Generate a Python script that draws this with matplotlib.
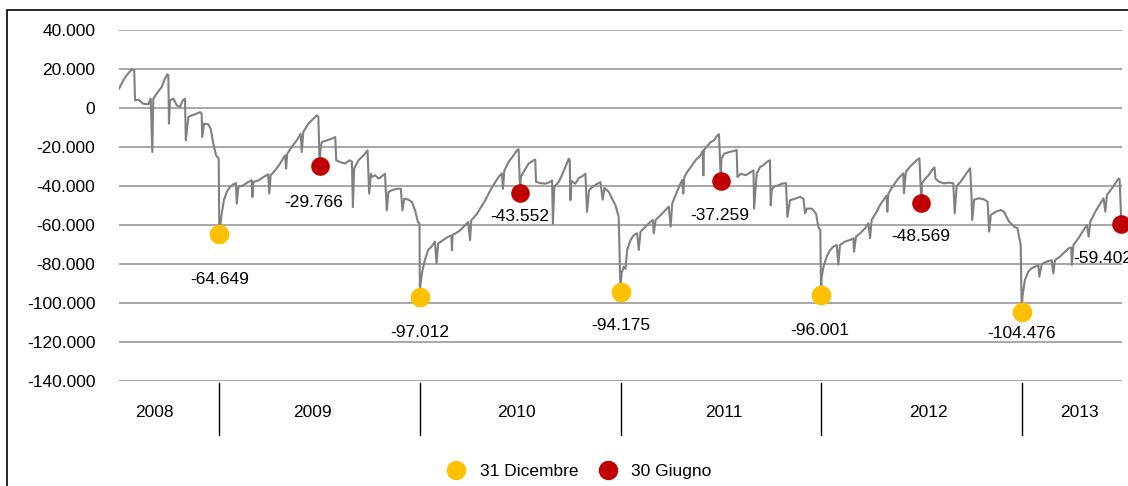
import matplotlib
matplotlib.use("Agg")
import matplotlib.pyplot as plt
import matplotlib.transforms as mtransforms
from matplotlib.lines import Line2D
from matplotlib.patches import Rectangle

plt.rcParams['font.family'] = ['Liberation Sans', 'DejaVu Sans']

# ---------------------- Data ----------------------
# daily series (time in fractional years, values in thousands)
t = [
    # 2008 H2
    2008.500, 2008.522, 2008.538, 2008.563, 2008.576, 2008.580, 2008.596, 2008.621, 2008.646, 2008.658,
    2008.666, 2008.671, 2008.688, 2008.713, 2008.729, 2008.741, 2008.746, 2008.749, 2008.754, 2008.771,
    2008.788, 2008.804, 2008.818, 2008.829, 2008.833, 2008.846, 2008.862, 2008.887, 2008.904, 2008.912,
    2008.915, 2008.924, 2008.945, 2008.957, 2008.970, 2008.984, 2008.997, 2009.000,
    # 2009 H1
    2009.012, 2009.023, 2009.037, 2009.053, 2009.070, 2009.083, 2009.087, 2009.095, 2009.120, 2009.145,
    2009.162, 2009.165, 2009.170, 2009.195, 2009.220, 2009.244, 2009.249, 2009.256, 2009.278, 2009.303,
    2009.328, 2009.333, 2009.339, 2009.361, 2009.386, 2009.406, 2009.411, 2009.419, 2009.444, 2009.469,
    2009.486, 2009.494, 2009.500,
    # 2009 H2
    2009.505, 2009.512, 2009.536, 2009.561, 2009.578, 2009.583, 2009.602, 2009.627, 2009.649, 2009.661,
    2009.666, 2009.672, 2009.694, 2009.711, 2009.727, 2009.739, 2009.747, 2009.756, 2009.760, 2009.776,
    2009.794, 2009.811, 2009.826, 2009.835, 2009.843, 2009.860, 2009.885, 2009.905, 2009.913, 2009.922,
    2009.943, 2009.960, 2009.976, 2009.990, 2009.998, 2010.000,
    # 2010 H1
    2010.003, 2010.013, 2010.025, 2010.041, 2010.058, 2010.075, 2010.083, 2010.091, 2010.116, 2010.141,
    2010.157, 2010.160, 2010.163, 2010.176, 2010.201, 2010.225, 2010.241, 2010.250, 2010.256, 2010.285,
    2010.310, 2010.326, 2010.351, 2010.371, 2010.392, 2010.409, 2010.414, 2010.421, 2010.442, 2010.467,
    2010.484, 2010.492, 2010.500,
    # 2010 H2
    2010.503, 2010.517, 2010.542, 2010.567, 2010.575, 2010.579, 2010.600, 2010.625, 2010.650, 2010.659,
    2010.663, 2010.670, 2010.692, 2010.708, 2010.725, 2010.742, 2010.747, 2010.750, 2010.755, 2010.775,
    2010.792, 2010.817, 2010.825, 2010.833, 2010.843, 2010.860, 2010.885, 2010.900, 2010.911, 2010.920,
    2010.942, 2010.958, 2010.975, 2010.991, 2011.000,
    # 2011 H1
    2011.005, 2011.016, 2011.025, 2011.033, 2011.050, 2011.067, 2011.083, 2011.091, 2011.100, 2011.125,
    2011.150, 2011.161, 2011.166, 2011.175, 2011.200, 2011.225, 2011.241, 2011.250, 2011.258, 2011.275,
    2011.292, 2011.308, 2011.313, 2011.318, 2011.333, 2011.358, 2011.375, 2011.400, 2011.410, 2011.413,
    2011.416, 2011.425, 2011.450, 2011.466, 2011.483, 2011.491, 2011.500,
    # 2011 H2
    2011.503, 2011.517, 2011.542, 2011.567, 2011.579, 2011.583, 2011.600, 2011.625, 2011.650, 2011.663,
    2011.666, 2011.679, 2011.696, 2011.712, 2011.729, 2011.745, 2011.749, 2011.754, 2011.762, 2011.787,
    2011.804, 2011.825, 2011.832, 2011.845, 2011.870, 2011.895, 2011.912, 2011.920, 2011.929, 2011.954,
    2011.975, 2011.986, 2011.996, 2012.000,
    # 2012 H1
    2012.003, 2012.012, 2012.028, 2012.045, 2012.061, 2012.078, 2012.086, 2012.094, 2012.119, 2012.144,
    2012.161, 2012.164, 2012.174, 2012.194, 2012.219, 2012.236, 2012.244, 2012.252, 2012.277, 2012.294,
    2012.311, 2012.327, 2012.330, 2012.335, 2012.352, 2012.368, 2012.385, 2012.410, 2012.413, 2012.423,
    2012.443, 2012.460, 2012.477, 2012.490, 2012.500,
    # 2012 H2
    2012.503, 2012.520, 2012.537, 2012.553, 2012.565, 2012.570, 2012.587, 2012.612, 2012.637, 2012.659,
    2012.666, 2012.676, 2012.696, 2012.713, 2012.730, 2012.743, 2012.750, 2012.753, 2012.763, 2012.788,
    2012.809, 2012.830, 2012.838, 2012.846, 2012.871, 2012.896, 2012.912, 2012.937, 2012.962, 2012.979,
    2012.987, 2012.995, 2013.000,
    # 2013 H1
    2013.004, 2013.016, 2013.033, 2013.049, 2013.066, 2013.083, 2013.088, 2013.100, 2013.124, 2013.149,
    2013.158, 2013.166, 2013.191, 2013.216, 2013.233, 2013.247, 2013.250, 2013.258, 2013.283, 2013.308,
    2013.325, 2013.334, 2013.342, 2013.367, 2013.392, 2013.408, 2013.417, 2013.425, 2013.450, 2013.467,
    2013.483, 2013.488, 2013.497,
]

v = [
    # 2008 H2
    9.9, 14.2, 16.8, 19.7, 19.3, 3.9, 4.3, 2.2, 1.9, 4.8,
    -22.6, 4.8, 7.4, 10.8, 15.0, 17.3, 16.8, -8.0, 3.9, 4.8,
    1.4, 0.5, 3.9, 4.8, -16.6, -4.6, -3.8, -2.9, -2.1, -2.9,
    -14.9, -8.0, -8.4, -10.6, -18.3, -24.3, -26.0, -64.649,
    # 2009 H1
    -54.2, -47.3, -43.1, -40.5, -39.1, -38.5, -49.0, -40.5, -39.6, -37.9,
    -37.1, -45.6, -37.9, -37.1, -35.4, -34.0, -43.9, -34.5, -32.0, -28.5,
    -24.3, -31.1, -23.4, -20.0, -16.6, -13.2, -22.6, -12.3, -8.0, -5.5,
    -3.8, -4.6, -29.766,
    # 2009 H2
    -20.0, -17.4, -16.6, -15.7, -14.9, -26.8, -27.7, -28.5, -26.8, -27.5,
    -50.8, -31.1, -26.8, -25.1, -23.4, -21.7, -43.9, -33.7, -35.4, -34.5,
    -36.2, -35.0, -33.7, -52.5, -43.1, -42.2, -41.4, -41.4, -52.5, -46.5,
    -47.0, -48.2, -52.5, -58.4, -59.3, -97.012,
    # 2010 H1
    -89.9, -83.1, -77.9, -72.8, -71.1, -68.5, -79.6, -69.5, -67.7, -66.0,
    -65.5, -72.9, -65.0, -64.4, -62.7, -60.2, -58.4, -67.8, -57.6, -54.2,
    -49.9, -47.3, -42.2, -38.8, -35.4, -33.5, -41.4, -32.0, -27.7, -24.3,
    -21.7, -21.2, -43.552,
    # 2010 H2
    -35.4, -32.8, -28.5, -26.8, -26.5, -37.9, -38.5, -38.8, -37.9, -37.1,
    -59.3, -40.5, -37.9, -34.5, -30.2, -26.0, -26.8, -47.3, -37.5, -38.8,
    -36.0, -34.5, -33.7, -53.3, -42.2, -40.5, -38.8, -38.0, -47.0, -41.0,
    -43.1, -46.5, -49.9, -55.9, -94.175,
    # 2011 H1
    -84.8, -81.4, -82.5, -72.8, -67.7, -65.1, -64.3, -72.8, -63.4, -60.8,
    -58.3, -57.5, -64.3, -57.4, -54.9, -52.3, -50.6, -60.8, -48.9, -44.6,
    -40.3, -36.9, -43.9, -35.5, -32.7, -29.2, -26.7, -24.1, -22.0, -34.5,
    -21.5, -20.5, -17.4, -16.6, -14.0, -13.5, -37.259,
    # 2011 H2
    -26.0, -23.4, -22.6, -22.0, -21.5, -35.4, -33.7, -34.5, -32.8, -32.0,
    -51.6, -33.7, -30.2, -29.4, -27.7, -26.8, -49.9, -42.2, -40.5, -39.6,
    -38.8, -38.5, -55.9, -47.3, -46.5, -45.6, -46.5, -54.0, -51.6, -51.6,
    -54.2, -61.0, -62.7, -96.001,
    # 2012 H1
    -86.5, -81.4, -76.2, -72.8, -71.1, -70.3, -80.3, -70.3, -68.5, -67.7,
    -66.8, -73.7, -66.0, -64.3, -61.7, -59.1, -66.8, -57.4, -53.2, -49.7,
    -47.2, -45.0, -53.2, -44.0, -41.0, -38.6, -36.1, -33.5, -43.8, -32.7,
    -30.1, -28.4, -26.7, -25.8, -48.569,
    # 2012 H2
    -38.6, -36.1, -34.4, -31.8, -30.4, -36.1, -37.8, -38.6, -38.3, -38.6,
    -54.0, -40.0, -37.8, -35.2, -32.7, -30.9, -45.5, -57.4, -47.0, -46.3,
    -46.8, -48.0, -63.4, -54.9, -53.2, -52.3, -53.2, -58.3, -60.8, -61.7,
    -66.0, -70.2, -104.476,
    # 2013 H1
    -96.7, -88.2, -83.9, -82.2, -81.4, -80.5, -86.5, -80.0, -78.8, -78.0,
    -84.8, -78.0, -76.2, -73.7, -72.0, -71.5, -80.5, -70.2, -66.8, -62.6,
    -60.0, -66.0, -58.3, -53.2, -48.9, -46.3, -53.2, -44.6, -41.2, -38.6,
    -36.1, -36.6, -59.402,
]

dec_t = [2009.0, 2010.0, 2011.0, 2012.0, 2013.0]
dec_v = [-64649, -97012, -94175, -96001, -104476]
jun_t = [2009.5, 2010.5, 2011.5, 2012.5, 2013.497]
jun_v = [-29766, -43552, -37259, -48569, -59402]

years = ["2008", "2009", "2010", "2011", "2012", "2013"]
year_bounds = [2009, 2010, 2011, 2012, 2013]
year_label_x = [2008.674, 2009.462, 2010.479, 2011.516, 2012.533, 2013.286]

# label offsets (pixels) from each marker
dec_off = [(0, -45), (0, -35), (0, -34), (-1, -35), (0, -22)]
jun_off = [(-6, -36), (0, -24), (-1, -35), (-1, -34), (-48, -35)]

YELLOW = "#FFC000"
RED = "#C00000"
FS = 12.5


def fmt(x):
    return f"{x:,.0f}".replace(",", ".")


# ---------------------- Plot ----------------------
fig = plt.figure(figsize=(11.28, 4.86), dpi=100)
ax = fig.add_axes([119 / 1128, 1 - 381 / 486, 1003 / 1128, 351 / 486])

ax.plot(t, [x * 1000 for x in v], color="#808080", lw=1.5, zorder=2)
ax.scatter(dec_t, dec_v, s=200, color=YELLOW, zorder=3, clip_on=False, linewidths=0)
ax.scatter(jun_t, jun_v, s=180, color=RED, zorder=3, clip_on=False, linewidths=0)

for x, y, (dx, dy) in zip(dec_t, dec_v, dec_off):
    ax.annotate(fmt(y), (x, y), xytext=(dx, dy), textcoords="offset pixels",
                ha="center", va="center", fontsize=FS, zorder=4)
for i, (x, y, (dx, dy)) in enumerate(zip(jun_t, jun_v, jun_off)):
    ax.annotate(fmt(y), (x, y), xytext=(dx, dy), textcoords="offset pixels",
                ha="left" if i == len(jun_t) - 1 else "center", va="center",
                fontsize=FS, zorder=4, annotation_clip=False)

ax.set_xlim(2008.5, 2013.5)
ax.set_ylim(-140000, 40000)
ax.set_yticks(range(-140000, 40001, 20000))
ax.set_yticklabels([fmt(y) for y in range(-140000, 40001, 20000)], fontsize=FS)
ax.set_xticks([])
ax.tick_params(axis="y", length=0, pad=17)
ax.yaxis.grid(True, color="#A0A0A0", lw=1.3)
ax.set_axisbelow(True)
for s in ax.spines.values():
    s.set_visible(False)

trans = mtransforms.blended_transform_factory(ax.transData, ax.transAxes)
for yb in year_bounds:
    ax.plot([yb, yb], [-0.006, -0.154], transform=trans, color="black", lw=1, clip_on=False)
for lab, xp in zip(years, year_label_x):
    ax.text(xp, -0.091, lab, transform=trans, ha="center", va="center", fontsize=FS)

handles = [Line2D([], [], ls="", marker="o", markersize=14, color=YELLOW, markeredgewidth=0),
           Line2D([], [], ls="", marker="o", markersize=14, color=RED, markeredgewidth=0)]
fig.legend(handles, ["31 Dicembre", "30 Giugno"], loc="center", bbox_to_anchor=(0.513, 0.029),
           ncol=2, frameon=False, fontsize=FS, handlelength=1.2, handletextpad=0.75,
           columnspacing=1.1, borderpad=0)

# outer frame (only left and top edges fall inside the picture)
fig.add_artist(Rectangle((7 / 1128, -0.1), 1.2, 0.1 + 1 - 10 / 486, transform=fig.transFigure,
                         fill=False, ec="black", lw=1.2))

fig.savefig("out.png", dpi=100)
